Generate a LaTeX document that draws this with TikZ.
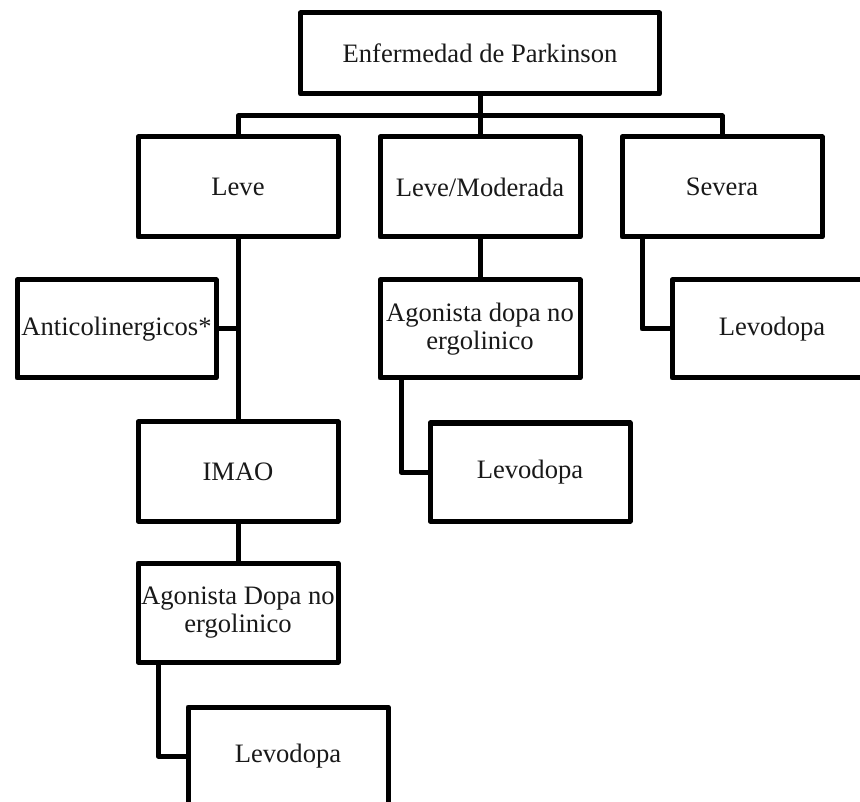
\documentclass[tikz,border=0pt]{standalone}
\usepackage{fontspec}
\setmainfont{Liberation Serif}
\begin{document}
\begin{tikzpicture}[x=1pt,y=-1pt,
  line width=5pt, line join=round,
  box/.style={draw=black, line width=5pt, inner sep=0pt, outer sep=0pt,
    minimum width=200pt, minimum height=99pt, align=center,
    text=black!90, font=\fontsize{26.6}{28}\selectfont},
  link/.style={draw=black, line width=5pt}]
\useasboundingbox (0,0) rectangle (860,802);
\begin{scope}
\clip (0,0) rectangle (860,802);
\fill[white] (0,0) rectangle (860,802);

% boxes
\node[box, minimum width=359pt, minimum height=81pt] (top) at (480,53.5) {Enfermedad de Parkinson};
\node[box, minimum height=100pt] (leve) at (238,187) {Leve};
\node[box, minimum height=100pt] (lm) at (480,187) {Leve/Moderada};
\node[box, minimum height=100pt] (sev) at (722,187) {Severa};
\node[box, minimum width=199pt, minimum height=98pt] (anti) at (116.5,329) {Anticolinergicos*};
\node[box] (imao) at (238,471.5) {IMAO};
\node[box] (ago1) at (238,612.5) {Agonista Dopa no\\ergolinico};
\node[box, minimum height=98pt] (lev1) at (288,756) {Levodopa};
\node[box, minimum height=98pt] (ago2) at (480,329) {Agonista dopa no\\ergolinico};
\node[box, minimum height=98pt] (lev2) at (530,472) {Levodopa};
\node[box, minimum height=98pt] (lev3) at (772,329) {Levodopa};

% connectors
\coordinate (bus) at (480,116);
\draw[link] (top.south) -- (bus);
\draw[link] (leve.north) |- (bus) -| (sev.north);
\draw[link] (lm.north) -- (bus);
\draw[link] (leve.south) -- (imao.north);
\draw[link] (anti.east) -- (anti.east -| leve.south);
\draw[link] (imao.south) -- (ago1.north);
\draw[link] ([xshift=20pt]ago1.south west) |- (lev1.west);
\draw[link] (lm.south) -- (ago2.north);
\draw[link] ([xshift=21pt]ago2.south west) |- (lev2.west);
\draw[link] ([xshift=20pt]sev.south west) |- (lev3.west);
\end{scope}
\end{tikzpicture}
\end{document}
